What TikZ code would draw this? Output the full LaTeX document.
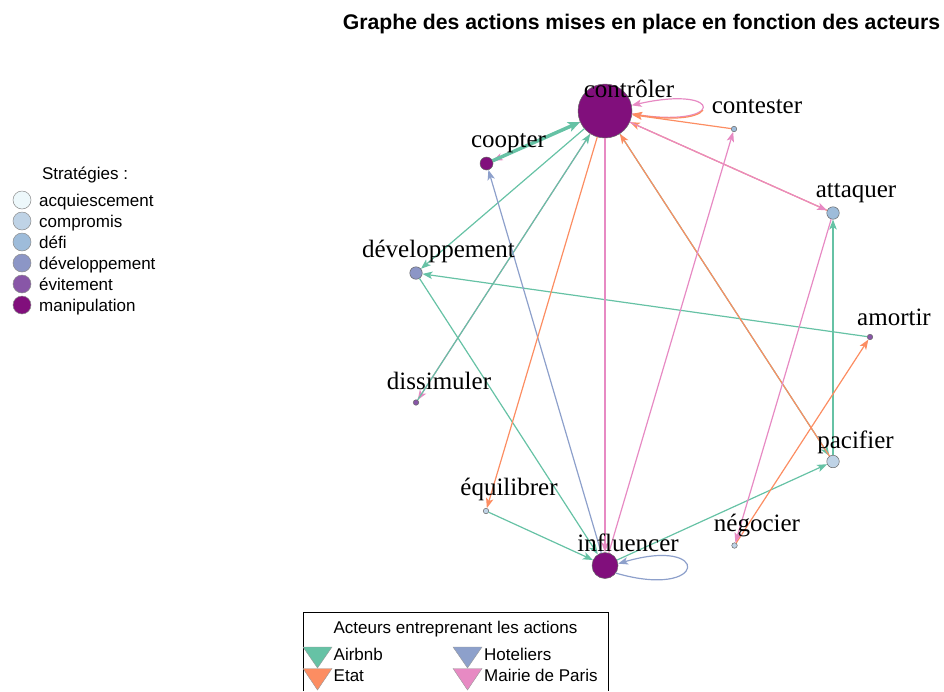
\documentclass[tikz,border=0pt]{standalone}
\definecolor{gpgreen}{HTML}{66C2A5}
\definecolor{gporange}{HTML}{FC8D62}
\definecolor{gpblue}{HTML}{8DA0CB}
\definecolor{gppink}{HTML}{E78AC3}
\definecolor{stacq}{HTML}{EDF8FB}
\definecolor{stcomp}{HTML}{BFD3E6}
\definecolor{stdefi}{HTML}{9EBCDA}
\definecolor{stdev}{HTML}{8C96C6}
\definecolor{stevit}{HTML}{8856A7}
\definecolor{stmanip}{HTML}{810F7C}
\usepackage{fontspec}
\setmainfont{Liberation Serif}
\setsansfont{Liberation Sans}
\usepackage{tikz}
\usetikzlibrary{arrows.meta}

\begin{document}
\begin{tikzpicture}[x=1pt, y=-1pt,
  vtx/.style={circle, draw=black!60, line width=0.5pt, inner sep=0pt},
  lab/.style={font=\fontsize{25}{28}\selectfont, anchor=base, inner sep=0pt},
  leg/.style={font=\sffamily\fontsize{17}{20}\selectfont, anchor=base west, inner sep=0pt},
  ttl/.style={font=\sffamily\bfseries\fontsize{21.2}{24}\selectfont, anchor=base, inner sep=0pt},
  dot/.style={circle, draw=black!45, line width=0.5pt, minimum size=18pt, inner sep=0pt},
  tri/.style={draw=black!40, line width=0.4pt},
  act/.style={line width=1.2pt, -{Stealth[length=10pt,width=7.5pt,inset=2.5pt]}},
  ab/.style={act, draw=gpgreen},
  et/.style={act, draw=gporange},
  ho/.style={act, draw=gpblue},
  mp/.style={act, draw=gppink},
]
  \useasboundingbox (0,0) rectangle (944,691);

  \node[ttl] (title) at (641.5,29) {Graphe des actions mises en place en fonction des acteurs};

  \node[vtx, fill=stmanip, minimum size=54pt] (ctl) at (605,111) {};
  \node[vtx, fill=stmanip, minimum size=13pt] (coo) at (486.5,163.5) {};
  \node[vtx, fill=stdefi,  minimum size=5.5pt] (con) at (734,129) {};
  \node[vtx, fill=stdefi,  minimum size=12.5pt] (att) at (833,213) {};
  \node[vtx, fill=stdev,   minimum size=12.5pt] (dev) at (416,273) {};
  \node[vtx, fill=stevit,  minimum size=5.5pt] (amo) at (870,337) {};
  \node[vtx, fill=stevit,  minimum size=5.5pt] (dis) at (416,402.5) {};
  \node[vtx, fill=stcomp,  minimum size=12.5pt] (pac) at (833,461.5) {};
  \node[vtx, fill=stcomp,  minimum size=5.5pt] (equ) at (486,511) {};
  \node[vtx, fill=stcomp,  minimum size=5.5pt] (neg) at (734.5,545.5) {};
  \node[vtx, fill=stmanip, minimum size=26pt] (inf) at (605,565.5) {};

  \draw[mp] (ctl) -- (coo);
  \draw[mp] (ctl) -- (dis);
  \draw[ab, line width=3.5pt, -{Stealth[length=12pt,width=10pt,inset=3pt]}] (coo) -- (ctl);
  \draw[ab] (dis) -- (ctl);
  \draw[ab] (ctl) -- (dev);
  \draw[ab] (ctl) -- (pac);
  \draw[ab] (amo) -- (dev);
  \draw[ab] (pac) -- (att);
  \draw[ab] (inf) -- (pac);
  \draw[ab] (equ) -- (inf);
  \draw[ab] (dev) -- (inf);
  \draw[ho] (inf) -- (coo);
  \draw[ho] (inf.-35) .. controls (708,600) and (712,536) .. (inf.8);
  \draw[et] (con) -- (ctl);
  \draw[et] (ctl) -- (equ);
  \draw[et] (pac) -- (ctl);
  \draw[et] (neg) -- (amo);
  \draw[et] (att) -- (ctl);
  \draw[mp] (inf) -- (con);
  \draw[mp] (ctl) -- (att);
  \draw[mp] (att) -- (neg);
  \draw[mp] (ctl) -- (inf);
  \draw[mp] (ctl.-6) .. controls (726,130) and (726,84) .. (ctl.12);
  \begin{scope}
    \clip (620,110.5) rectangle (740,140);
    \draw[et] (ctl.12) .. controls (726,84) and (726,130) .. (ctl.-6);
  \end{scope}

  \node[lab] (lctl) at (629,97) {contrôler};
  \node[lab] (lcoo) at (508.5,147) {coopter};
  \node[lab] (lcon) at (757,113.5) {contester};
  \node[lab] (latt) at (856,197) {attaquer};
  \node[lab] (ldev) at (438.5,257) {développement};
  \node[lab] (lamo) at (894,325) {amortir};
  \node[lab] (ldis) at (439,389.5) {dissimuler};
  \node[lab] (lpac) at (855.5,448) {pacifier};
  \node[lab] (lequ) at (509,495) {équilibrer};
  \node[lab] (lneg) at (757,531.5) {négocier};
  \node[lab] (linf) at (628,551.5) {influencer};

  \node[leg, anchor=base] (strat) at (85,179) {Stratégies :};
  \node[dot, fill=stacq]   (sacq)   at (22,200) {};
  \node[dot, fill=stcomp]  (scomp)  at (22,221) {};
  \node[dot, fill=stdefi]  (sdefi)  at (22,242) {};
  \node[dot, fill=stdev]   (sdev)   at (22,263) {};
  \node[dot, fill=stevit]  (sevit)  at (22,284) {};
  \node[dot, fill=stmanip] (smanip) at (22,305) {};
  \node[leg] (tacq)   at (39,206) {acquiescement};
  \node[leg] (tcomp)  at (39,227) {compromis};
  \node[leg] (tdefi)  at (39,248) {défi};
  \node[leg] (tdev)   at (39,269) {développement};
  \node[leg] (tevit)  at (39,290) {évitement};
  \node[leg] (tmanip) at (39,311) {manipulation};

  \draw[line width=0.8pt] (303.5,691) |- (608,612.5) -- (608,691);
  \node[leg, anchor=base] (acteurs) at (455.5,633) {Acteurs entreprenant les actions};
  \filldraw[tri, fill=gpgreen]  (303,647) -- (332,647) -- (317.5,668) -- cycle;
  \filldraw[tri, fill=gporange] (303,668.5) -- (332,668.5) -- (317.5,690) -- cycle;
  \filldraw[tri, fill=gpblue]   (453,647) -- (482,647) -- (467.5,668) -- cycle;
  \filldraw[tri, fill=gppink]   (453,668.5) -- (482,668.5) -- (467.5,690) -- cycle;
  \node[leg] (tab) at (333.5,660) {Airbnb};
  \node[leg] (tet) at (333.5,681.5) {Etat};
  \node[leg] (tho) at (484,660) {Hoteliers};
  \node[leg] (tmp) at (484,681.5) {Mairie de Paris};
\end{tikzpicture}
\end{document}
